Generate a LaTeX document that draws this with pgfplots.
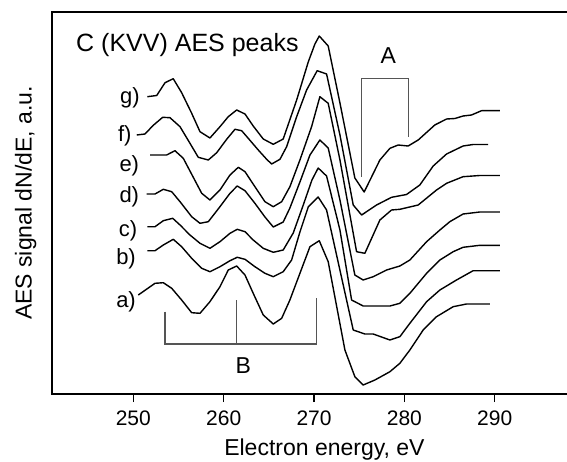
\documentclass[border=0pt]{standalone}
\usepackage{fontspec}
\setmainfont{Liberation Sans}
\usepackage{pgfplots}
\pgfplotsset{compat=1.18}
\usetikzlibrary{calc}
\definecolor{brk}{RGB}{85,85,85}
\begin{document}
\begin{tikzpicture}
\begin{axis}[
  scale only axis, width=515pt, height=382pt,
  xmin=241, xmax=298, ymin=0, ymax=382,
  axis line style={draw=none},
  xtick={250,260,270,280,290}, ytick=\empty,
  xtick pos=bottom, tick align=outside,
  major tick length=8pt,
  tick style={line width=1.2pt, black},
  xticklabel style={font=\fontsize{21}{25}\selectfont, yshift=-5pt},
  /pgf/number format/assume math mode=true,
  xlabel={Electron energy, eV},
  xlabel style={font=\fontsize{23}{27}\selectfont, at={(axis description cs:0.529,-0.162)}, anchor=base},
  ylabel={AES signal dN/dE, a.u.},
  ylabel style={font=\fontsize{23}{27}\selectfont, at={(axis description cs:-0.0394,0.5)}, anchor=base},
  clip=false,
  curve/.style={black, solid, line width=1.4pt, no markers, line join=round},
]
\draw[line width=1.3pt] (rel axis cs:1,1) -- (rel axis cs:0,1) -- (rel axis cs:0,0) -- (rel axis cs:1,0);
% g
\addplot[curve] coordinates {(251.55,297.3) (252.59,298.5) (253.51,311.3) (254.42,315.3) (255.35,301.3) (256.46,280.7) (257.38,262.3) (258.48,256) (259.59,267.3) (260.51,277.3) (261.44,284) (262.36,280) (263.27,268) (264.38,255) (265.49,249.7) (266.59,255) (268.08,294) (269.36,332) (270.10,350) (270.58,358) (271.57,348) (272.87,291) (274.52,216) (275.55,202) (277.29,234) (278.40,245.7) (279.31,249) (280.42,248) (281.53,254) (283.37,269) (284.67,275) (285.59,275.5) (286.50,278) (287.43,279) (288.54,283.3) (290.56,283.3)};
% f
\addplot[curve] coordinates {(250.38,259) (251.29,260) (252.21,268.7) (253.25,276.7) (254.06,276.3) (255.17,267.3) (256.27,250.7) (257.19,236.7) (258.30,234) (259.23,241.3) (260.33,254.7) (261.25,264.7) (261.99,263.3) (262.72,255.7) (263.83,244) (264.76,234.7) (265.31,230) (266.23,234.7) (266.97,247.3) (268.08,277.3) (269.18,304) (270.35,323.3) (271.39,320) (272.87,259) (274.34,189) (275.27,179) (276.92,189) (278.58,196.7) (280.24,199.5) (281.71,209) (283.19,228) (284.67,240) (286.50,248) (287.61,249.5) (289.27,249.5)};
% e
\addplot[curve] coordinates {(251.85,239) (253.69,239) (254.61,243.3) (255.53,235.7) (257.57,200.7) (258.48,194) (259.59,204) (260.70,219) (261.62,226.7) (262.36,222.3) (263.46,207.3) (264.57,192.3) (265.49,187.3) (266.42,192.3) (267.33,207.3) (268.44,234) (269.73,267.3) (270.65,297.3) (271.57,290.7) (272.87,234) (274.71,142.3) (275.63,140.7) (277.29,174) (278.58,184) (279.50,184.7) (281.53,189) (283.56,204) (284.67,210.7) (286.50,217.3) (288.35,218.5) (290.56,218.5)};
% d
\addplot[curve] coordinates {(251.48,200) (252.40,200) (253.32,204.7) (254.25,202.3) (255.17,192.3) (256.46,177.3) (257.38,170.7) (258.30,172.3) (259.59,187.3) (260.70,200.7) (261.50,208) (262.36,203.3) (263.46,190.7) (264.57,177) (265.49,167) (266.59,172) (267.33,186) (268.44,212) (269.55,239) (270.65,254) (271.57,246) (272.87,194) (274.52,119) (275.44,114) (276.55,117.3) (278.03,124) (279.50,128) (280.61,134) (282.46,152.3) (283.93,164) (285.03,172.3) (286.50,180) (288.35,182) (290.56,182)};
% c
\addplot[curve] coordinates {(251.55,167.3) (252.40,167.3) (253.32,173.3) (254.36,175.7) (255.17,169) (256.27,159) (257.38,150.7) (258.48,145.7) (259.59,152.3) (260.70,160.7) (261.50,164.7) (262.36,162.3) (263.27,154) (264.38,145.7) (265.49,141.7) (266.59,144) (267.70,161) (268.81,189) (269.77,214) (270.46,226) (271.39,218) (272.87,164) (274.16,94) (275.44,88) (276.92,88) (278.40,88) (279.50,90.7) (280.61,100.7) (282.46,120.7) (283.93,134) (285.40,142.3) (286.50,146.7) (288.35,148.7) (290.56,148.7)};
% b
\addplot[curve] coordinates {(251.55,143.3) (252.40,143.3) (253.32,149) (254.42,154.7) (255.35,147.3) (256.46,135.7) (257.57,125.7) (258.48,122.3) (259.59,127.3) (260.70,133.3) (261.50,136.7) (262.36,134.7) (263.46,127.3) (264.57,120.7) (265.49,117.3) (266.59,122.3) (267.52,134) (268.44,162) (269.36,187) (270.46,197) (271.39,184) (274.34,64) (275.63,60) (276.55,60) (278.40,54) (279.50,57.3) (280.61,70.7) (282.46,92.3) (283.93,104) (285.77,114) (287.61,123.3) (290.56,123.3)};
% a
\addplot[curve] coordinates {(250.55,99) (252.40,110.7) (253.32,111.3) (254.25,105.7) (255.35,94) (256.46,81.3) (257.38,80.7) (258.48,92.3) (259.59,107.3) (260.51,124) (261.44,128) (262.36,119) (263.27,100.7) (264.38,79) (265.49,70) (266.42,75.7) (267.33,94) (268.44,120.7) (269.55,147.3) (270.58,153.3) (271.57,132.3) (273.42,44) (274.52,17.3) (275.44,9) (276.74,14) (278.40,22.3) (279.50,30.7) (280.61,44) (282.08,64) (283.56,77.3) (285.40,87.3) (286.88,90) (289.46,90)};
% brackets
\addplot[brk, solid, no markers, line width=1.2pt, line join=miter] coordinates {(253.50,82.3) (253.50,50) (270.29,50) (270.29,96.3)};
\addplot[brk, solid, no markers, line width=1.2pt] coordinates {(261.43,94) (261.43,50)};
\addplot[brk, solid, no markers, line width=1.2pt, line join=miter] coordinates {(275.27,217.3) (275.27,315.7) (280.42,315.7) (280.42,257.3)};
% texts
\node[anchor=base west, inner sep=0, font=\fontsize{25}{29}\selectfont] at (axis cs:243.66,342.3) {C (KVV) AES peaks};
\node[anchor=base, inner sep=0, font=\fontsize{23}{27}\selectfont] at (axis cs:278.21,330.7) {A};
\node[anchor=base, inner sep=0, font=\fontsize{23}{27}\selectfont] at (axis cs:262.17,20.7) {B};
\node[anchor=base east, inner sep=0, font=\fontsize{22}{26}\selectfont] at (axis cs:250.74,290) {g)};
\node[anchor=base east, inner sep=0, font=\fontsize{22}{26}\selectfont] at (axis cs:249.82,253) {f)};
\node[anchor=base east, inner sep=0, font=\fontsize{22}{26}\selectfont] at (axis cs:250.66,223) {e)};
\node[anchor=base east, inner sep=0, font=\fontsize{22}{26}\selectfont] at (axis cs:250.66,191.3) {d)};
\node[anchor=base east, inner sep=0, font=\fontsize{22}{26}\selectfont] at (axis cs:250.44,158) {c)};
\node[anchor=base east, inner sep=0, font=\fontsize{22}{26}\selectfont] at (axis cs:250.30,130) {b)};
\node[anchor=base east, inner sep=0, font=\fontsize{22}{26}\selectfont] at (axis cs:250.30,87) {a)};
\end{axis}
\pgfresetboundingbox
\path ($(current axis.south west)+(-52pt,-67pt)$) rectangle ($(current axis.north east)+(0pt,12pt)$);
\end{tikzpicture}
\end{document}
